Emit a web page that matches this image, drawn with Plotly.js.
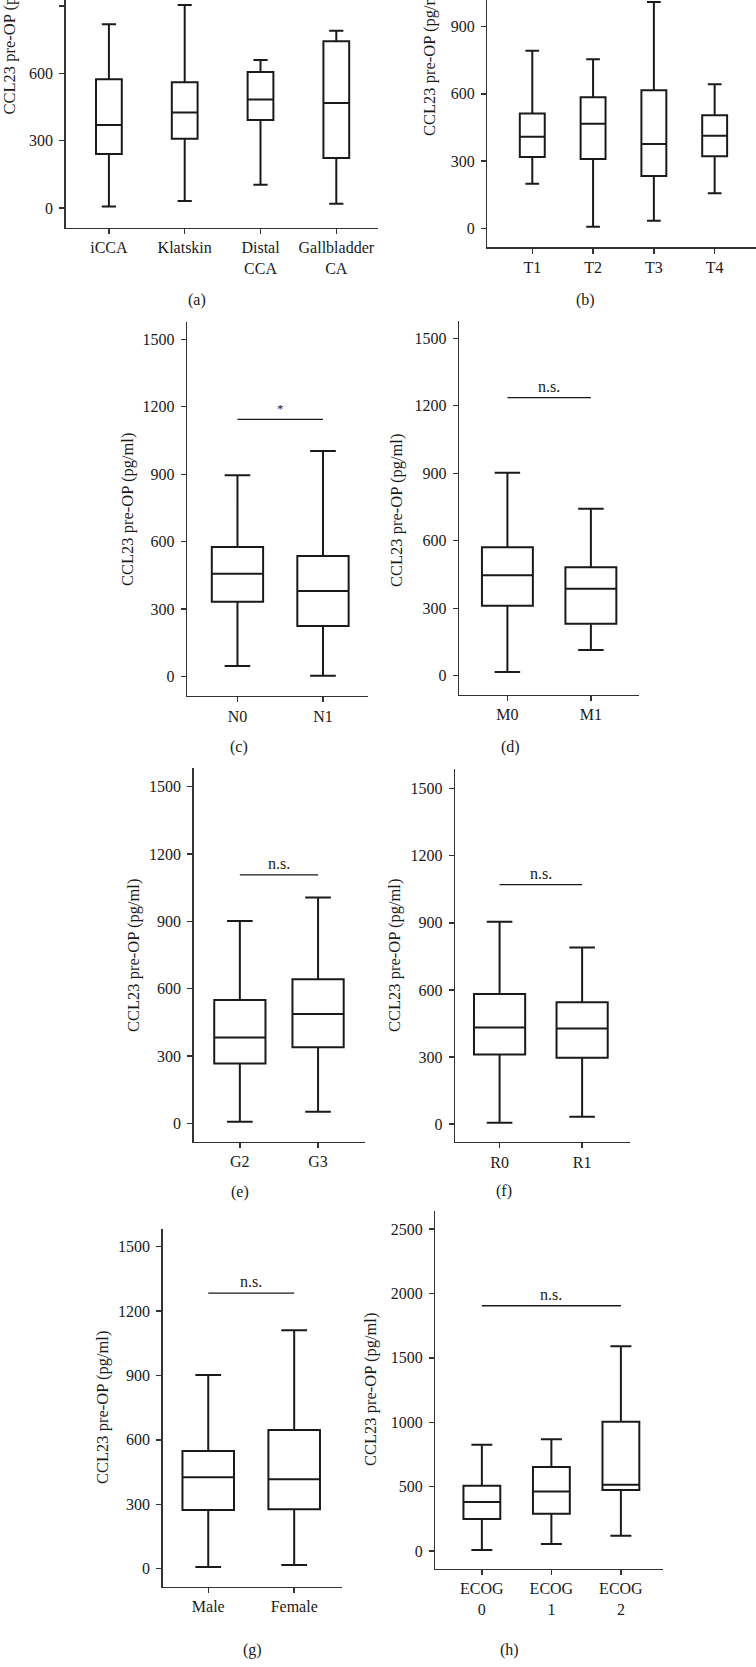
<!DOCTYPE html>
<html>
<head>
<meta charset="utf-8">
<script src="https://cdn.plot.ly/plotly-3.0.1.min.js"></script>
<style>
  body { margin: 0; background: #fff; }
  #myDiv { width: 756px; height: 1667px; }
</style>
</head>
<body>
<div id="myDiv"></div>
<script>
// CCL23 pre-OP (pg/ml), box statistics
var catsA = ['iCCA', 'Klatskin', 'Distal<br>CCA', 'Gallbladder<br>CA'];
var minA = [6, 31, 104, 19];
var q1A = [241, 308, 392, 223];
var medA = [370, 426, 484, 468];
var q3A = [574, 560, 606, 743];
var maxA = [819, 905, 660, 790];

var catsB = ['T1', 'T2', 'T3', 'T4'];
var minB = [199, 7, 33, 156];
var q1B = [318, 309, 233, 321];
var medB = [408, 466, 376, 413];
var q3B = [512, 585, 616, 504];
var maxB = [792, 754, 1010, 643];

var catsC = ['N0', 'N1'];
var minC = [47, 4];
var q1C = [333, 225];
var medC = [458, 381];
var q3C = [576, 536];
var maxC = [896, 1003];

var catsD = ['M0', 'M1'];
var minD = [16, 114];
var q1D = [311, 231];
var medD = [447, 387];
var q3D = [571, 482];
var maxD = [902, 742];

var catsE = ['G2', 'G3'];
var minE = [7, 52];
var q1E = [267, 339];
var medE = [382, 487];
var q3E = [550, 642];
var maxE = [902, 1006];

var catsF = ['R0', 'R1'];
var minF = [6, 33];
var q1F = [311, 297];
var medF = [432, 427];
var q3F = [582, 545];
var maxF = [905, 790];

var catsG = ['Male', 'Female'];
var minG = [8, 17];
var q1G = [273, 277];
var medG = [426, 416];
var q3G = [548, 646];
var maxG = [902, 1110];

var catsH = ['ECOG<br>0', 'ECOG<br>1', 'ECOG<br>2'];
var minH = [8, 54, 119];
var q1H = [248, 290, 474];
var medH = [380, 463, 515];
var q3H = [507, 652, 1004];
var maxH = [825, 867, 1589];

// significance bars: level and label
var sigLevel = [null, null, 1144, 1236, 1107, 1071, 1283, 1904];
var sigText = [null, null, '*', 'n.s.', 'n.s.', 'n.s.', 'n.s.', 'n.s.'];

var ticksStd = [0, 300, 600, 900, 1200, 1500];
var ticksH = [0, 500, 1000, 1500, 2000, 2500];
var panelTags = ['(a)', '(b)', '(c)', '(d)', '(e)', '(f)', '(g)', '(h)'];
var yTitle = 'CCL23 pre-OP (pg/ml)';

var stats = [
  [catsA, minA, q1A, medA, q3A, maxA],
  [catsB, minB, q1B, medB, q3B, maxB],
  [catsC, minC, q1C, medC, q3C, maxC],
  [catsD, minD, q1D, medD, q3D, maxD],
  [catsE, minE, q1E, medE, q3E, maxE],
  [catsF, minF, q1F, medF, q3F, maxF],
  [catsG, minG, q1G, medG, q3G, maxG],
  [catsH, minH, q1H, medH, q3H, maxH]
];

// page geometry in px: axis box (l, r, t, b), value ranges, box width,
// tag position, y-title centre
var W = 756, H = 1667;
var geo = [
  {l: 65.7, r: 378, t: 0, b: 227.7, yr: [-88, 927], xr: [-0.57, 3.55], bw: 0.34, ww: 0.55, tag: [197, 300], tt: [9, 38.5]},
  {l: 487.3, r: 756, t: 0, b: 247.3, yr: [-85, 1019], xr: [-0.74, 3.68], bw: 0.41, ww: 0.55, tag: [585, 300], tt: [429, 60]},
  {l: 187, r: 368.3, t: 322, b: 696, yr: [-86, 1577], xr: [-0.59, 1.53], bw: 0.6, ww: 0.5, tag: [239, 747], tt: [127, 510]},
  {l: 459, r: 639.3, t: 321, b: 694.7, yr: [-84.5, 1577], xr: [-0.58, 1.58], bw: 0.61, ww: 0.5, tag: [510, 747], tt: [397, 511]},
  {l: 193.7, r: 365, t: 768.3, b: 1141.7, yr: [-82, 1582], xr: [-0.59, 1.6], bw: 0.655, ww: 0.5, tag: [240, 1192], tt: [133, 956]},
  {l: 455, r: 630, t: 769.3, b: 1142, yr: [-80.5, 1587], xr: [-0.54, 1.58], bw: 0.62, ww: 0.5, tag: [504, 1191], tt: [394, 956]},
  {l: 162.7, r: 342.3, t: 1229, b: 1586.7, yr: [-84, 1582], xr: [-0.53, 1.56], bw: 0.6, ww: 0.5, tag: [252, 1650], tt: [102, 1408]},
  {l: 435.3, r: 663.3, t: 1210.7, b: 1568.7, yr: [-137, 2642], xr: [-0.67, 2.61], bw: 0.53, ww: 0.57, tag: [509, 1650], tt: [370, 1390]}
];

var serif = 'Liberation Serif, Times New Roman, serif';
var ink = '#1a1a1a';

var data = [];
var layout = {
  width: W,
  height: H,
  margin: {l: 0, r: 0, t: 0, b: 0},
  paper_bgcolor: '#fff',
  plot_bgcolor: 'rgba(0,0,0,0)',
  showlegend: false,
  font: {family: serif, size: 16, color: ink},
  annotations: []
};

for (var i = 0; i < stats.length; i++) {
  var s = stats[i], g = geo[i];
  var n = i === 0 ? '' : String(i + 1);
  var xa = 'x' + n, ya = 'y' + n;

  data.push({
    type: 'box',
    xaxis: xa,
    yaxis: ya,
    x: s[0],
    lowerfence: s[1],
    q1: s[2],
    median: s[3],
    q3: s[4],
    upperfence: s[5],
    width: g.bw,
    whiskerwidth: g.ww,
    boxpoints: false,
    fillcolor: '#fff',
    line: {color: ink, width: 2},
    hoverinfo: 'skip'
  });

  var axLine = {
    showline: true, linecolor: '#333', linewidth: 1.4,
    ticks: 'outside', ticklen: 5, tickwidth: 1.4, tickcolor: '#333',
    showgrid: false, zeroline: false, fixedrange: true,
    tickfont: {family: serif, size: 16, color: ink}
  };
  layout['xaxis' + n] = Object.assign({}, axLine, {
    domain: [g.l / W, g.r / W],
    anchor: ya,
    type: 'category',
    categoryarray: s[0],
    range: g.xr
  });
  layout['yaxis' + n] = Object.assign({}, axLine, {
    domain: [1 - g.b / H, 1 - g.t / H],
    anchor: xa,
    range: g.yr,
    tickvals: i === 7 ? ticksH : ticksStd,
    ticklabelstandoff: 3
  });

  // y title (cut by the page edge in the top row, as in the figure)
  layout.annotations.push({
    xref: 'paper', yref: 'paper',
    x: g.tt[0] / W, y: 1 - g.tt[1] / H,
    text: yTitle, textangle: -90, showarrow: false,
    xanchor: 'center', yanchor: 'middle',
    font: {family: serif, size: 16.5, color: ink}
  });

  // panel tag
  layout.annotations.push({
    xref: 'paper', yref: 'paper',
    x: g.tag[0] / W, y: 1 - g.tag[1] / H,
    text: panelTags[i], showarrow: false,
    xanchor: 'center', yanchor: 'middle',
    font: {family: serif, size: 16, color: ink}
  });

  if (sigLevel[i] !== null) {
    var last = s[0][s[0].length - 1];
    data.push({
      type: 'scatter', mode: 'lines',
      xaxis: xa, yaxis: ya,
      x: [s[0][0], last],
      y: [sigLevel[i], sigLevel[i]],
      line: {color: ink, width: 1.3},
      hoverinfo: 'skip'
    });
    layout.annotations.push({
      xref: xa, yref: ya,
      x: (s[0].length - 1) / 2, y: sigLevel[i],
      text: sigText[i], showarrow: false,
      yanchor: 'bottom', yshift: 1,
      font: {family: serif, size: sigText[i] === '*' ? 13 : 16, color: ink}
    });
  }
}

Plotly.newPlot('myDiv', data, layout, {displayModeBar: false, staticPlot: true});
</script>
</body>
</html>
